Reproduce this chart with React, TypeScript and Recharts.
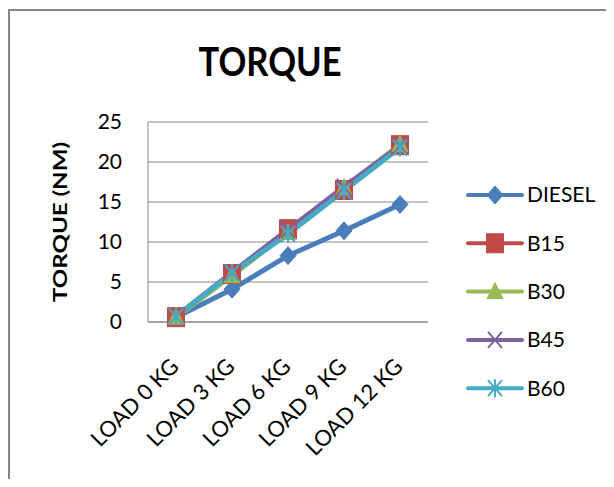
import React from "react";
import { LineChart, Line, XAxis, YAxis, CartesianGrid } from "recharts";

const categories = ["LOAD 0 KG", "LOAD 3 KG", "LOAD 6 KG", "LOAD 9 KG", "LOAD 12 KG"];
const diesel = [0.6, 4.1, 8.3, 11.4, 14.7];
const b15 = [0.6, 6.0, 11.6, 16.5, 22.1];
const b30 = [0.6, 5.8, 11.2, 16.8, 22.2];
const b45 = [0.7, 6.2, 11.5, 16.9, 22.0];
const b60 = [0.7, 6.1, 11.0, 16.4, 21.8];
const yTicks = [0, 5, 10, 15, 20, 25];

const FONT = "Lato, 'Liberation Sans', Arial, sans-serif";
const GRID = "#868686";

const series = [
  { key: "DIESEL", values: diesel, color: "#4A7EBB", marker: "diamond" },
  { key: "B15", values: b15, color: "#BE4B48", marker: "square" },
  { key: "B30", values: b30, color: "#98B954", marker: "triangle" },
  { key: "B45", values: b45, color: "#7D60A0", marker: "x" },
  { key: "B60", values: b60, color: "#46AAC5", marker: "star" },
];

const data = categories.map((name, i) => {
  const row: Record<string, string | number> = { name };
  series.forEach((s) => (row[s.key] = s.values[i]));
  return row;
});

function marker(shape: string, cx: number, cy: number, color: string, key?: string) {
  switch (shape) {
    case "diamond":
      return (
        <path key={key} d={`M${cx},${cy - 9} L${cx + 8},${cy} L${cx},${cy + 9} L${cx - 8},${cy} Z`} fill={color} stroke={color} strokeWidth={1} />
      );
    case "square":
      return <rect key={key} x={cx - 8.5} y={cy - 9.5} width={17} height={19} fill={color} stroke={color} strokeWidth={1} />;
    case "triangle":
      return (
        <path key={key} d={`M${cx},${cy - 9} L${cx + 8},${cy + 7} L${cx - 8},${cy + 7} Z`} fill={color} stroke={color} strokeWidth={1} />
      );
    case "x":
      return (
        <path key={key} d={`M${cx - 7},${cy - 8} L${cx + 7},${cy + 8} M${cx + 7},${cy - 8} L${cx - 7},${cy + 8}`} stroke={color} strokeWidth={2} fill="none" />
      );
    default:
      return (
        <path
          key={key}
          d={`M${cx - 7},${cy - 8} L${cx + 7},${cy + 8} M${cx + 7},${cy - 8} L${cx - 7},${cy + 8} M${cx},${cy - 9} L${cx},${cy + 9}`}
          stroke={color}
          strokeWidth={2}
          fill="none"
        />
      );
  }
}

const XTick = (props: any) => {
  const { x, y, payload } = props;
  const ax = x + 4;
  const ay = y + 46;
  return (
    <text x={ax} y={ay} transform={`rotate(-45, ${ax}, ${ay})`} textAnchor="end" fontSize={22} fontFamily={FONT} fill="#000">
      {payload.value}
    </text>
  );
};

export default function App() {
  return (
    <div style={{ position: "relative", width: 606, height: 471, overflow: "hidden", background: "#fff" }}>
      <div
        style={{
          position: "absolute",
          left: 0,
          top: 1,
          width: 700,
          height: 600,
          borderTop: `2px solid ${GRID}`,
          borderLeft: `2px solid ${GRID}`,
        }}
      />
      <div style={{ position: "absolute", left: 0, top: 0 }}>
        <LineChart width={606} height={471} data={data} margin={{ top: 114, right: 186, bottom: 0, left: 100 }}>
          <CartesianGrid vertical={false} stroke={GRID} strokeWidth={1} />
          <XAxis
            dataKey="name"
            padding={{ left: 28, right: 28 }}
            height={157}
            tickLine={false}
            tickSize={0}
            tickMargin={0}
            axisLine={{ stroke: GRID, strokeWidth: 1 }}
            tick={<XTick />}
            interval={0}
          />
          <YAxis
            domain={[0, 25]}
            ticks={yTicks}
            width={40}
            tickLine={false}
            tickSize={0}
            tickMargin={26}
            axisLine={{ stroke: GRID, strokeWidth: 1 }}
            tick={{ fill: "#000", fontSize: 21, fontFamily: FONT }}
          />
          {series.map((s) => (
            <Line
              key={s.key}
              dataKey={s.key}
              stroke={s.color}
              strokeWidth={5}
              isAnimationActive={false}
              dot={(p: any) => marker(s.marker, p.cx, p.cy, s.color, `${s.key}-${p.index}`)}
              activeDot={false}
            />
          ))}
        </LineChart>
      </div>
      <svg width={606} height={471} style={{ position: "absolute", left: 0, top: 0, pointerEvents: "none" }}>
        <text x={262} y={68} textAnchor="middle" fontSize={40} fontWeight="bold" fontFamily={FONT} textLength={143} lengthAdjust="spacingAndGlyphs">
          TORQUE
        </text>
        <text
          x={59}
          y={214}
          transform="rotate(-90, 59, 214)"
          textAnchor="middle"
          fontSize={18}
          fontWeight="bold"
          fontFamily={FONT}
          textLength={160}
          lengthAdjust="spacingAndGlyphs"
        >
          TORQUE (NM)
        </text>
        {series.map((s, i) => {
          const y = 187 + i * 48.3;
          return (
            <g key={s.key}>
              <line x1={460} x2={514} y1={y} y2={y} stroke={s.color} strokeWidth={4} strokeLinecap="round" />
              {marker(s.marker, 487, y, s.color)}
              <text x={519} y={y} dy="0.35em" fontSize={21} fontFamily={FONT} fill="#000">
                {s.key}
              </text>
            </g>
          );
        })}
      </svg>
    </div>
  );
}
